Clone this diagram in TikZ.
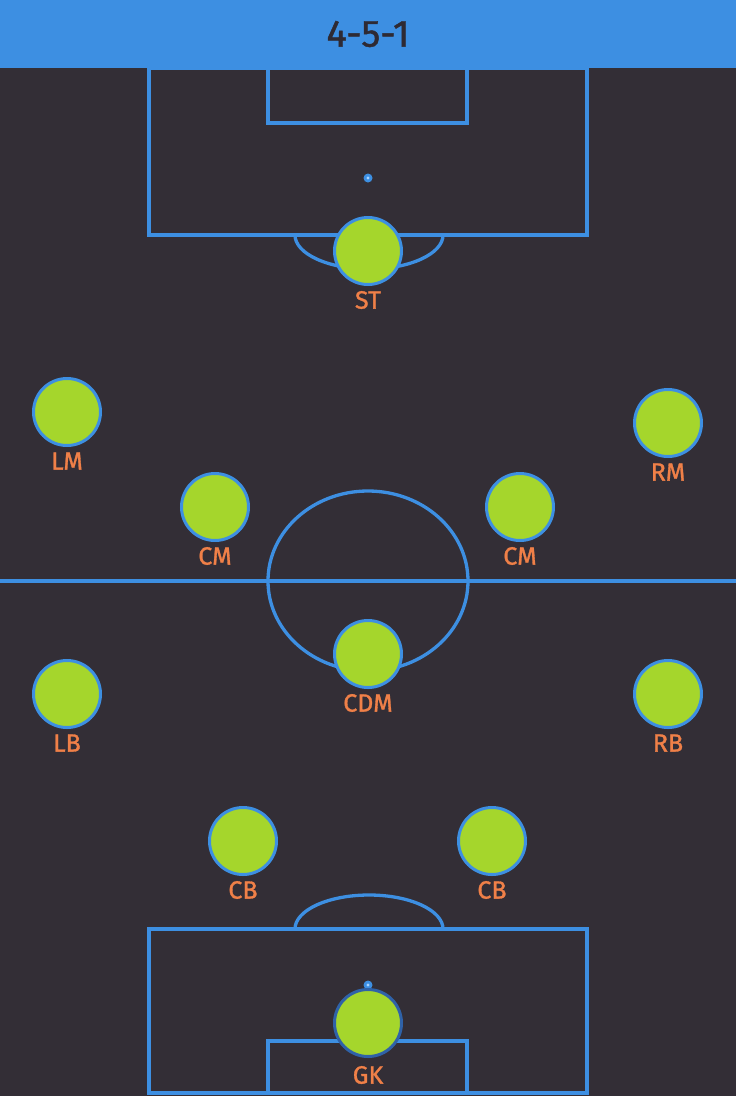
\documentclass[tikz,border=0pt]{standalone}
\usepackage{fontspec}
\setmainfont{Fira Sans}
\newfontfamily\tagfont[FakeBold=1.2]{Fira Sans}
\usetikzlibrary{positioning}
\definecolor{pitchbg}{HTML}{332E36}
\definecolor{linesblue}{HTML}{3D8FE2}
\definecolor{darkring}{HTML}{2F62A8}
\definecolor{shirt}{HTML}{A5D62C}
\definecolor{tagorange}{HTML}{F08048}
\definecolor{titleink}{HTML}{2E2A33}
\definecolor{spotlight}{HTML}{A8D4FF}
\tikzset{
  pitchline/.style={draw=linesblue,line width=3.3pt},
  player/.style={circle,fill=shirt,draw=linesblue,line width=3pt,minimum size=67pt,inner sep=0pt},
  plabel/.style={text=tagorange,font=\tagfont\fontsize{25}{25}\selectfont,inner sep=0pt}
}

\begin{document}
\begin{tikzpicture}[x=1pt,y=-1pt]
  \useasboundingbox (0,0) rectangle (736,1096);
  \fill[pitchbg] (0,0) rectangle (736,1096);
  \fill[linesblue] (0,0) rectangle (736,68);
  % top half
  \draw[pitchline] (149,68) rectangle (587,235);
  \draw[pitchline] (268,68) rectangle (467,123);
  \draw[pitchline] (295,235) arc[start angle=180,end angle=0,x radius=74,y radius=34];
  \fill[linesblue] (368,178) circle (4.5);
  \fill[spotlight] (368,178) circle (1.6);
  % middle
  \draw[pitchline] (0,581)--(736,581);
  \draw[pitchline] (368,581) ellipse[x radius=100,y radius=90];
  % bottom half
  \draw[pitchline] (149,929) rectangle (587,1093);
  \draw[pitchline] (268,1041) rectangle (467,1093);
  \draw[pitchline] (295,929) arc[start angle=180,end angle=360,x radius=74,y radius=34];
  \fill[linesblue] (368,985) circle (4.5);
  \fill[spotlight] (368,985) circle (1.6);
  % players
  \foreach \n/\x/\y/\t in {st/368/251/ST,lm/67/412/LM,rm/668/423/RM,cml/215/507/CM,cmr/520/507/CM,
      cdm/368/654/CDM,lb/67/694/LB,rb/668/694/RB,cbl/243/841/CB,cbr/492/841/CB}{
    \node[player] (p-\n) at (\x,\y) {};
    \node[plabel] (l-\n) at (\x,\y+49) {\t};
  }
  \node[player,draw=darkring] (p-gk) at (368,1023) {};
  \node[plabel] (l-gk) at (368,1075) {GK};
  % title
  \node[text=titleink,font=\tagfont\fontsize{38}{38}\selectfont,inner sep=0pt] (title) at (368,34) {4-5-1};
\end{tikzpicture}
\end{document}
